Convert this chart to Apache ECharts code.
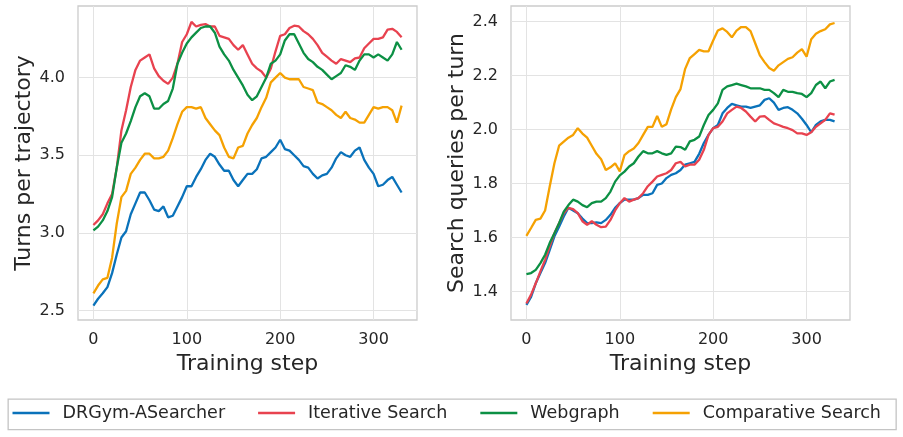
<!DOCTYPE html>
<html>
<head>
<meta charset="utf-8">
<script src="https://cdn.jsdelivr.net/npm/echarts@6/dist/echarts.min.js"></script>
<style>
html,body{margin:0;padding:0;background:#fff;}
#chart{width:903px;height:437px;}
</style>
</head>
<body>
<div id="chart"></div>
<script>
const steps = [0,5,10,15,20,25,30,35,40,45,50,55,60,65,70,75,80,85,90,95,100,105,110,115,120,125,130,135,140,145,150,155,160,165,170,175,180,185,190,195,200,205,210,215,220,225,230,235,240,245,250,255,260,265,270,275,280,285,290,295,300,305,310,315,320,325,330];

const seriesNames = ['DRGym-ASearcher','Iterative Search','Webgraph','Comparative Search'];

// Left panel: Turns per trajectory
const turnsDRGym = [2.53,2.575,2.61,2.65,2.74,2.86,2.97,3.01,3.12,3.19,3.26,3.26,3.21,3.15,3.14,3.17,3.10,3.11,3.17,3.23,3.30,3.30,3.36,3.41,3.47,3.51,3.49,3.44,3.40,3.40,3.34,3.30,3.34,3.38,3.38,3.41,3.48,3.49,3.52,3.55,3.60,3.54,3.53,3.50,3.47,3.43,3.42,3.38,3.35,3.37,3.38,3.42,3.48,3.52,3.50,3.49,3.53,3.55,3.47,3.42,3.38,3.30,3.31,3.34,3.36,3.31,3.26];
const turnsIterative = [3.05,3.08,3.12,3.19,3.25,3.42,3.66,3.79,3.94,4.05,4.11,4.13,4.15,4.06,4.01,3.98,3.96,4.00,4.09,4.23,4.28,4.36,4.33,4.34,4.345,4.33,4.33,4.27,4.26,4.25,4.21,4.18,4.21,4.15,4.09,4.06,4.04,4.00,4.06,4.17,4.27,4.28,4.32,4.335,4.33,4.30,4.28,4.25,4.21,4.16,4.135,4.11,4.09,4.12,4.11,4.10,4.125,4.13,4.19,4.22,4.25,4.25,4.26,4.31,4.315,4.295,4.26];
const turnsWebgraph = [3.015,3.04,3.08,3.14,3.23,3.42,3.58,3.64,3.72,3.81,3.88,3.90,3.88,3.80,3.80,3.83,3.85,3.93,4.09,4.16,4.22,4.26,4.29,4.32,4.33,4.33,4.29,4.20,4.15,4.11,4.05,4.00,3.95,3.89,3.855,3.88,3.94,4.00,4.09,4.11,4.15,4.24,4.28,4.28,4.22,4.16,4.12,4.10,4.07,4.05,4.02,3.99,4.01,4.03,4.08,4.07,4.05,4.11,4.15,4.15,4.13,4.15,4.13,4.11,4.15,4.23,4.18];
const turnsComparative = [2.61,2.66,2.70,2.71,2.84,3.06,3.23,3.27,3.38,3.42,3.47,3.51,3.51,3.48,3.48,3.49,3.53,3.61,3.70,3.78,3.81,3.81,3.80,3.81,3.74,3.70,3.66,3.63,3.55,3.49,3.48,3.55,3.56,3.64,3.695,3.74,3.81,3.87,3.97,4.00,4.03,4.00,3.99,3.99,3.99,3.94,3.93,3.92,3.84,3.83,3.81,3.79,3.76,3.74,3.78,3.74,3.73,3.71,3.71,3.76,3.81,3.80,3.81,3.81,3.79,3.71,3.82];

// Right panel: Search queries per turn
const queriesDRGym = [1.35,1.38,1.43,1.468,1.505,1.554,1.604,1.64,1.678,1.71,1.70,1.69,1.67,1.653,1.653,1.656,1.653,1.665,1.684,1.71,1.727,1.74,1.74,1.74,1.746,1.758,1.758,1.764,1.795,1.80,1.82,1.832,1.838,1.85,1.87,1.875,1.88,1.91,1.95,1.98,2.005,2.017,2.06,2.08,2.095,2.09,2.085,2.085,2.08,2.085,2.09,2.11,2.116,2.10,2.073,2.08,2.083,2.073,2.06,2.04,2.017,1.99,2.017,2.03,2.036,2.036,2.03];
const queriesIterative = [1.355,1.388,1.43,1.474,1.517,1.567,1.616,1.653,1.69,1.71,1.705,1.69,1.66,1.647,1.66,1.647,1.638,1.64,1.665,1.70,1.727,1.746,1.733,1.74,1.746,1.764,1.79,1.807,1.826,1.832,1.838,1.85,1.875,1.88,1.863,1.87,1.87,1.888,1.925,1.98,2.005,2.01,2.03,2.06,2.073,2.085,2.08,2.067,2.048,2.03,2.048,2.05,2.036,2.023,2.017,2.01,2.005,1.998,1.986,1.986,1.98,1.99,2.01,2.023,2.036,2.06,2.055];
const queriesWebgraph = [1.464,1.468,1.48,1.505,1.536,1.58,1.616,1.653,1.696,1.72,1.74,1.733,1.72,1.712,1.727,1.733,1.733,1.746,1.77,1.807,1.83,1.844,1.863,1.875,1.90,1.92,1.912,1.912,1.92,1.912,1.906,1.912,1.937,1.935,1.925,1.956,1.962,1.974,2.017,2.054,2.073,2.097,2.147,2.16,2.165,2.17,2.165,2.16,2.153,2.153,2.153,2.147,2.147,2.135,2.12,2.147,2.14,2.14,2.135,2.132,2.12,2.135,2.165,2.178,2.153,2.178,2.184];
const queriesComparative = [1.606,1.635,1.665,1.67,1.70,1.79,1.875,1.94,1.955,1.97,1.98,2.005,1.985,1.97,1.94,1.91,1.89,1.85,1.86,1.875,1.845,1.905,1.92,1.93,1.95,1.98,2.01,2.01,2.05,2.01,2.02,2.075,2.12,2.15,2.225,2.265,2.28,2.295,2.29,2.29,2.33,2.367,2.375,2.362,2.342,2.367,2.38,2.38,2.365,2.32,2.275,2.25,2.228,2.218,2.238,2.25,2.262,2.268,2.285,2.298,2.27,2.335,2.355,2.365,2.372,2.39,2.395];

const xTicks = [0,100,200,300];
const leftYTicks = [2.5,3.0,3.5,4.0];
const rightYTicks = [1.4,1.6,1.8,2.0,2.2,2.4];

const colors = ['#0a72ba','#e8424f','#0c9044','#f5a102'];
const font = 'DejaVu Sans';
const textColor = '#262626';

const chart = echarts.init(document.getElementById('chart'), null, {renderer:'canvas'});

function xAxis(gi){
  return {
    type:'value', gridIndex:gi, min:-16.5, max:346.5,
    name:'Training step', nameLocation:'middle', nameGap:31,
    nameTextStyle:{fontFamily:font, fontSize:22, color:textColor},
    axisLine:{show:false},
    axisTick:{show:false, customValues:xTicks},
    axisLabel:{customValues:xTicks, fontFamily:font, fontSize:16, color:textColor, margin:12},
    splitLine:{show:true, lineStyle:{color:'#e3e3e3', width:1}}
  };
}
function yAxis(gi, name, min, max, ticks, gap){
  return {
    type:'value', gridIndex:gi, min:min, max:max,
    name:name, nameLocation:'middle', nameGap:gap,
    nameTextStyle:{fontFamily:font, fontSize:22, color:textColor},
    axisLine:{show:false},
    axisTick:{show:false, customValues:ticks},
    axisLabel:{customValues:ticks, fontFamily:font, fontSize:16, color:textColor, margin:13,
      formatter:v=>Number(v).toFixed(1)},
    splitLine:{show:true, lineStyle:{color:'#e3e3e3', width:1}}
  };
}

const panels = [
  [turnsDRGym, turnsIterative, turnsWebgraph, turnsComparative],
  [queriesDRGym, queriesIterative, queriesWebgraph, queriesComparative]
];
const series = [];
panels.forEach((arrs, gi)=>{
  arrs.forEach((arr, k)=>{
    series.push({
      type:'line', name:seriesNames[k], xAxisIndex:gi, yAxisIndex:gi,
      data: steps.map((s,i)=>[s, arr[i]]),
      showSymbol:false, symbol:'none', smooth:false,
      lineStyle:{color:colors[k], width:2.3},
      itemStyle:{color:colors[k]},
      z: 2
    });
  });
});

chart.setOption({
  animation:false,
  backgroundColor:'#ffffff',
  color:colors,
  grid:[
    {left:78, top:6, width:339, height:314, show:true, borderColor:'#cccccc', borderWidth:1.3, backgroundColor:'transparent'},
    {left:511, top:6, width:339, height:314, show:true, borderColor:'#cccccc', borderWidth:1.3, backgroundColor:'transparent'}
  ],
  xAxis:[xAxis(0), xAxis(1)],
  yAxis:[
    yAxis(0,'Turns per trajectory',2.438,4.462,leftYTicks,40),
    yAxis(1,'Search queries per turn',1.294,2.458,rightYTicks,43)
  ],
  graphic:[{
    type:'rect', left:7.5, top:398.5, z:0,
    shape:{width:888, height:30.5},
    style:{fill:'#ffffff', stroke:'#c4c4c4', lineWidth:1.3}
  }],
  legend:{
    data:seriesNames, left:12.5, top:404, padding:0,
    icon:'rect', itemWidth:37, itemHeight:2.6, itemGap:33,
    textStyle:{fontFamily:font, fontSize:17.5, color:textColor, padding:[0,0,0,8]},
    selectedMode:false, z:5
  },
  series:series
});
</script>
</body>
</html>
